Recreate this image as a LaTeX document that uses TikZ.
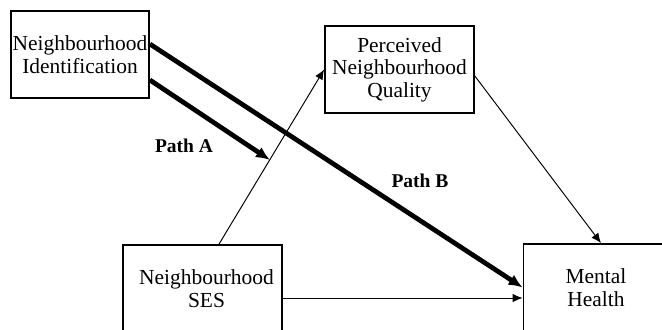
\documentclass[tikz,border=0pt]{standalone}
\usepackage{fontspec}
\setmainfont{Liberation Serif}
\usetikzlibrary{arrows.meta}
\tikzstyle{vbox} = [%
  rectangle,
  draw=black,
  line width=1pt,
  minimum height=1.74cm,
  align=center,
  fill=none,
  text centered,
  inner sep=0.5pt,
  font=\fontsize{12.2}{12.8}\selectfont
]

\begin{document}
\begin{tikzpicture}[%
  x=0.02cm, y=-0.02cm,
  thinarrow/.style={-{Latex[length=0.2cm,width=0.17cm]}, line width=0.55pt},
  thickarrow/.style={-{Latex[length=0.28cm,width=0.24cm]}, line width=2.7pt},
  lbl/.style={font=\fontsize{11.1}{13}\selectfont\bfseries}
]
  \clip[use as bounding box] (0,0) rectangle (662,329);

  % Nodes
  \node[vbox, minimum width=2.76cm] (NI) at (80,54.5) {Neighbourhood\\Identification};
  \node[vbox, minimum width=2.98cm] (PNQ) at (399.5,69.5) {Perceived\\Neighbourhood\\Quality};
  \node[vbox, minimum width=3.18cm] (SES) at (202.5,288.5) {\hspace{0.16cm}Neighbourhood\\\hspace{0.16cm}SES};
  \node[vbox, minimum width=3.1cm] (MH) at (601,287.5) {\hspace{-0.2cm}Mental\\\hspace{-0.2cm}Health};
  \coordinate (Aend) at (270,160);

  % Labels
  \node[lbl] (pathA) at (184,146) {Path A};
  \node[lbl] (pathB) at (420,181) {Path B};

  % Edges
  \draw[thickarrow] ([yshift=0.21cm]NI.east) -- (MH.west);
  \draw[thickarrow] ([yshift=-0.51cm]NI.east) -- (Aend);
  \draw[thinarrow] ([xshift=0.33cm]SES.north) -- (PNQ.west);
  \draw[thinarrow] ([yshift=-0.13cm]PNQ.east) -- (MH.north);
  \draw[thinarrow] ([yshift=-0.19cm]SES.east) -- ([yshift=-0.19cm]SES.east -| MH.west);

\end{tikzpicture}
\end{document}
